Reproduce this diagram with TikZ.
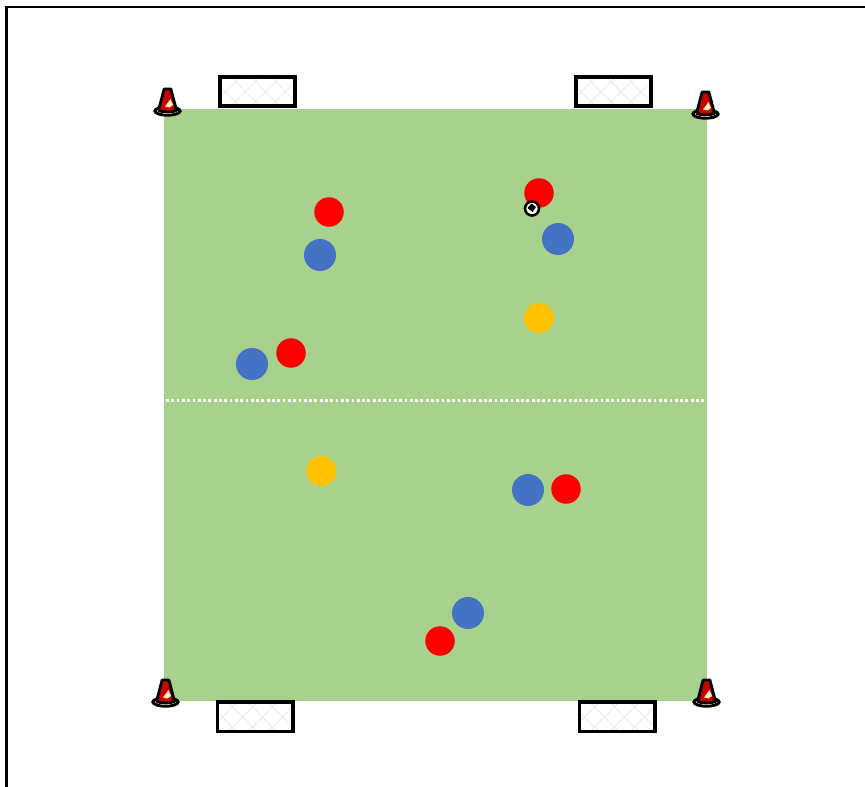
\documentclass[tikz,border=0pt]{standalone}
\definecolor{pitch}{HTML}{A9D18E}
\definecolor{pblue}{HTML}{4472C4}
\definecolor{pyellow}{HTML}{FFC000}
\definecolor{pred}{HTML}{FF0000}
\definecolor{conered}{HTML}{C80000}
\definecolor{conecream}{HTML}{FFE9B0}
\tikzset{
  redp/.style={circle,fill=pred,minimum size=29.5pt,inner sep=0pt},
  bluep/.style={circle,fill=pblue,minimum size=32pt,inner sep=0pt},
  yellowp/.style={circle,fill=pyellow,minimum size=30pt,inner sep=0pt},
  goalframe/.style={draw=black,line width=3.9pt,line join=miter},
  netline/.style={draw=black!8,line width=0.8pt},
  halfway/.style={draw=white,line width=2.3pt,dash pattern=on 2.8pt off 2.5pt},
  conepic/.pic={
    \draw[black,line width=3pt,fill=conecream] (0,1) ellipse (12.6pt and 4.2pt);
    \fill[conered] (-7,1.5) .. controls (-3,4) and (3,4) .. (7,1.5) -- (7,0) -- (-7,0) -- cycle;
    \fill[conecream] (-5,3.2) .. controls (-2,4.3) and (2,4.3) .. (5,3.2) -- (3,2.6) -- (-3,2.6) -- cycle;
    \draw[black,line width=2.8pt,line join=round,fill=conered] (-9,0.5) -- (-3.4,-21) -- (3.4,-21) -- (9,0.5) .. controls (4,2.5) and (-4,2.5) .. (-9,0.5);
    \fill[conecream] (3,-11) -- (5.6,-5) -- (2,-2.5) -- (-2.5,-3.5) -- cycle;
    \fill[white] (2.4,-8) -- (3.6,-5.5) -- (1,-4) -- cycle;
  },
  goalpic/.pic={
    \begin{scope}
      \clip (0,0) rectangle (75.5,29.5);
      \foreach \k in {-30,-10,...,90}{
        \path[netline,draw] (\k,0) -- (\k+30,30);
        \path[netline,draw] (\k+30,0) -- (\k,30);
      }
    \end{scope}
  }
}
\begin{document}
\begin{tikzpicture}[x=1pt,y=-1pt]
\useasboundingbox (0,0) rectangle (865,787);
\fill[white] (0,0) rectangle (865,787);
\draw[black,line width=2.7pt] (6.5,787) -- (6.5,7) -- (865,7);
\fill[pitch] (164,109) rectangle (707,701);
\coordinate (hl) at (166,400.5);
\coordinate (hr) at (706,400.5);
\draw[halfway] (hl) -- (hr);
% goals
\pic at (220.3,76.7) {goalpic};
\draw[goalframe] (220.3,76.7) rectangle (295.3,106.3);
\pic at (576,76.7) {goalpic};
\draw[goalframe] (576,76.7) rectangle (651,106.3);
\pic at (217.5,702) {goalpic};
\draw[goalframe] (217.5,702) rectangle (293,731.5);
\pic at (579.5,702) {goalpic};
\draw[goalframe] (579.5,702) rectangle (655,731.5);
% cones
\pic at (167.5,110) {conepic};
\pic at (705.5,113) {conepic};
\pic at (165.5,701) {conepic};
\pic at (706.5,701) {conepic};
% players
\node[redp] (r1) at (329,212) {};
\node[redp] (r2) at (539,193) {};
\node[redp] (r3) at (291,353) {};
\node[redp] (r4) at (566,489) {};
\node[redp] (r5) at (440,641) {};
\node[bluep] (b1) at (320,255) {};
\node[bluep] (b2) at (558,239) {};
\node[bluep] (b3) at (252,364) {};
\node[bluep] (b4) at (528,490) {};
\node[bluep] (b5) at (468,613) {};
\node[yellowp] (y1) at (539,318) {};
\node[yellowp] (y2) at (321.5,471) {};
% ball
\node[circle,draw=black,line width=2.6pt,fill=white,minimum size=14pt,inner sep=0pt] (ball) at (532,208.5) {};
\fill[black] (531.5,203.5) -- (536,207) -- (532.5,212) -- (527.5,208) -- cycle;
\end{tikzpicture}
\end{document}
